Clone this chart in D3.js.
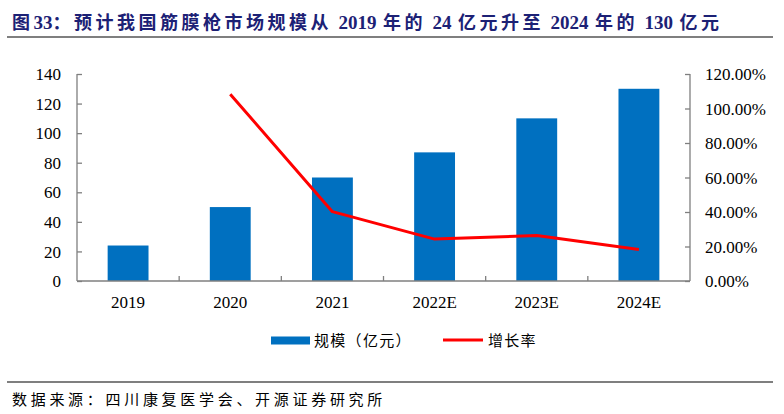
<!DOCTYPE html>
<html>
<head>
<meta charset="utf-8">
<script src="https://cdn.jsdelivr.net/npm/d3@7"></script>
<style>
  body { margin: 0; background: #fff; }
  svg { display: block; }
</style>
</head>
<body>
<svg id="chart" width="784" height="414"></svg>
<script>
const years = ["2019", "2020", "2021", "2022E", "2023E", "2024E"];
const scale = [24, 50, 70, 87, 110, 130];
const growth = [null, 108.3, 40.2, 24.3, 26.4, 18.2];
const leftTicks = [0, 20, 40, 60, 80, 100, 120, 140];
const rightTicks = [0, 20, 40, 60, 80, 100, 120];

const titleText = "图33：预计我国筋膜枪市场规模从 2019 年的 24 亿元升至 2024 年的 130 亿元";
const sourceText = "数据来源：四川康复医学会、开源证券研究所";

const svg = d3.select("#chart");
const serif = "'Liberation Serif', 'Times New Roman', 'Noto Sans CJK SC', serif";
const cjk = "'Noto Sans CJK SC', sans-serif";
const axisColor = "#7f7f7f";

const margin = { top: 74, bottom: 281, left: 77, right: 690 };

// title: CJK runs get extra spacing, digits stay tight, spaces a bit wider
const title = svg.append("text")
  .attr("x", 12).attr("y", 29)
  .attr("fill", "#1c2175")
  .attr("font-family", serif)
  .attr("font-weight", 700)
  .attr("font-size", 18);
title.selectAll("tspan")
  .data(titleText.match(/[\u3000-\uffff]+| +|[^\u3000-\uffff ]+/g))
  .join("tspan")
  .attr("letter-spacing", (d) => (/[\u3000-\uffff]/.test(d) ? 3.5 : d === " " ? 2 : 0))
  .attr("font-size", (d) => (/[0-9]/.test(d) ? 19 : 18))
  .text((d) => d);

svg.append("line").attr("x1", 7).attr("x2", 773).attr("y1", 37).attr("y2", 37)
  .attr("stroke", "#000").attr("stroke-width", 1.2);
svg.append("line").attr("x1", 7).attr("x2", 773).attr("y1", 382).attr("y2", 382)
  .attr("stroke", "#000").attr("stroke-width", 1.2);

svg.append("text")
  .attr("x", 12).attr("y", 405)
  .attr("fill", "#000")
  .attr("font-family", cjk)
  .attr("font-size", 15)
  .attr("letter-spacing", 3.7)
  .text(sourceText);

// scales
const x = d3.scaleBand().domain(years).range([margin.left, margin.right]);
const yL = d3.scaleLinear().domain([0, 140]).range([margin.bottom, margin.top]);
const yR = d3.scaleLinear().domain([0, 120]).range([margin.bottom, margin.top]);

// bars
const barW = x.bandwidth() * 0.4;
svg.append("g")
  .selectAll("rect")
  .data(years)
  .join("rect")
  .attr("x", (d) => x(d) + (x.bandwidth() - barW) / 2)
  .attr("y", (d, i) => yL(scale[i]))
  .attr("width", barW)
  .attr("height", (d, i) => yL(0) - yL(scale[i]))
  .attr("fill", "#0070c0");

// left axis, ticks pointing inward
svg.append("g")
  .attr("transform", `translate(${margin.left},0)`)
  .call(d3.axisRight(yL).tickValues(leftTicks).tickSize(5).tickFormat(d3.format("d")))
  .call((g) => g.select(".domain").attr("stroke", axisColor).attr("stroke-width", 1.3).attr("d", `M0,${margin.top}V${margin.bottom}`))
  .call((g) => g.selectAll(".tick line").attr("stroke", axisColor).attr("stroke-width", 1.3))
  .call((g) => g.selectAll(".tick text")
    .attr("x", -16).attr("dy", "0.33em")
    .attr("text-anchor", "end")
    .attr("fill", "#000")
    .attr("font-family", serif).attr("font-size", 17));

// right axis
svg.append("g")
  .attr("transform", `translate(${margin.right},0)`)
  .call(d3.axisLeft(yR).tickValues(rightTicks).tickSize(5).tickFormat((d) => d.toFixed(2) + "%"))
  .call((g) => g.select(".domain").attr("stroke", axisColor).attr("stroke-width", 1.3).attr("d", `M0,${margin.top}V${margin.bottom}`))
  .call((g) => g.selectAll(".tick line").attr("stroke", axisColor).attr("stroke-width", 1.3))
  .call((g) => g.selectAll(".tick text")
    .attr("x", 15).attr("dy", "0.33em")
    .attr("text-anchor", "start")
    .attr("fill", "#000")
    .attr("font-family", serif).attr("font-size", 17));

// x axis baseline + category separators
const xAxis = svg.append("g").attr("transform", `translate(0,${margin.bottom})`);
xAxis.append("line")
  .attr("x1", margin.left).attr("x2", margin.right)
  .attr("stroke", axisColor).attr("stroke-width", 1.6);
xAxis.selectAll(".sep")
  .data(years.slice(1))
  .join("line")
  .attr("class", "sep")
  .attr("x1", (d) => x(d)).attr("x2", (d) => x(d))
  .attr("y1", 0).attr("y2", -5)
  .attr("stroke", axisColor).attr("stroke-width", 1.3);
xAxis.selectAll("text")
  .data(years)
  .join("text")
  .attr("x", (d) => x(d) + x.bandwidth() / 2)
  .attr("y", 27)
  .attr("text-anchor", "middle")
  .attr("fill", "#000")
  .attr("font-family", serif).attr("font-size", 17)
  .text((d) => d);

// growth line
const lineData = years.map((d, i) => ({ year: d, v: growth[i] })).filter((d) => d.v != null);
svg.append("path")
  .datum(lineData)
  .attr("fill", "none")
  .attr("stroke", "#ff0000")
  .attr("stroke-width", 3)
  .attr("stroke-linejoin", "round")
  .attr("d", d3.line().x((d) => x(d.year) + x.bandwidth() / 2).y((d) => yR(d.v)));

// legend
const legend = svg.append("g")
  .attr("font-family", cjk).attr("font-size", 15).attr("fill", "#000")
  .attr("letter-spacing", 1.3);
legend.append("rect").attr("x", 271).attr("y", 336.5).attr("width", 39).attr("height", 8).attr("fill", "#0070c0");
legend.append("text").attr("x", 314).attr("y", 346).text("规模（亿元）");
legend.append("line").attr("x1", 443).attr("x2", 483).attr("y1", 340).attr("y2", 340)
  .attr("stroke", "#ff0000").attr("stroke-width", 3);
legend.append("text").attr("x", 488).attr("y", 346).text("增长率");
</script>
</body>
</html>
